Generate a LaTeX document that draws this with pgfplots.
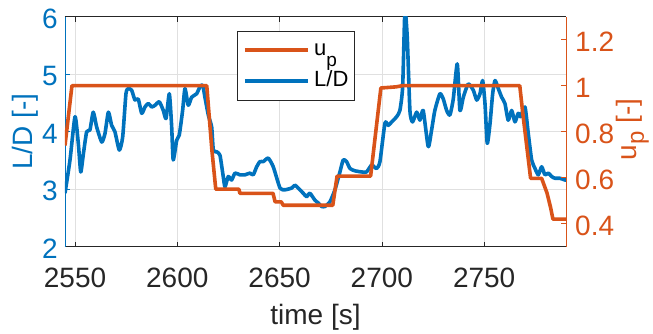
\documentclass[border=0pt]{standalone}
\usepackage{pgfplots}
\pgfplotsset{compat=1.18}
\usepackage{fontspec}
\setmainfont{Liberation Sans}
\definecolor{mblue}{RGB}{0,114,189}
\definecolor{morange}{RGB}{217,83,25}
\definecolor{mgray}{RGB}{38,38,38}
\newcommand{\bigfnt}{\fontsize{28}{34}\selectfont}
\begin{document}
\begin{tikzpicture}
\path[use as bounding box] (-65pt,-87.3pt) rectangle (588pt,246.7pt);
\begin{axis}[
  scale only axis, width=501pt, height=230pt, at={(0pt,0pt)}, anchor=south west,
  xmin=2545.1, xmax=2790, ymin=2, ymax=6,
  xtick={2550,2600,2650,2700,2750}, ytick={2,3,4,5,6},
  axis x line=box, axis y line*=left,
  x axis line style={mgray, line width=0.6pt},
  y axis line style={mblue, line width=0.6pt},
  tick align=inside, major tick length=5pt,
  xtick style={mgray, line width=0.6pt}, ytick style={mblue, line width=0.6pt},
  xticklabel pos=lower,
  grid=major, major grid style={black!12, line width=0.6pt},
  /pgf/number format/assume math mode=true,
  /pgf/number format/1000 sep={},
  tick label style={font=\bigfnt, inner sep=0pt},
  xticklabel style={text=mgray, anchor=north, yshift=-21pt},
  yticklabel style={text=mblue, anchor=east, xshift=-7pt, yshift=-2pt},
  xlabel={time [s]}, ylabel={L/D [-]},
  label style={font=\bigfnt},
  xlabel style={text=mgray, at={(axis description cs:0.5,-0.308)}, anchor=center},
  ylabel style={text=mblue, at={(axis description cs:-0.079,0.5)}, anchor=center},
  clip=true,
]
\addplot[mblue, line width=3.6pt, line join=round, smooth, tension=0.35] coordinates {
(2545.1,2.93) (2547.55,3.51) (2550.0,4.26) (2551.6,3.80) (2552.8,3.30) (2554.1,3.62)
(2555.7,4.00) (2557.3,4.03) (2558.9,4.34) (2560.6,4.08) (2563.05,3.82) (2564.65,3.97)
(2566.3,4.34) (2567.9,4.11) (2569.5,4.00) (2571.65,3.68) (2573.3,3.91) (2574.9,4.66)
(2576.05,4.75) (2577.7,4.72) (2579.3,4.55) (2580.9,4.57) (2582.6,4.32) (2584.2,4.43)
(2585.8,4.49) (2587.5,4.43) (2589.1,4.46) (2591.2,4.52) (2593.15,4.37) (2594.5,4.23)
(2596.1,4.66) (2597.25,4.08) (2598.0,3.51) (2599.7,3.85) (2600.95,3.94) (2602.6,4.37)
(2603.75,4.75) (2605.35,4.46) (2607.0,4.60) (2609.45,4.66) (2611.05,4.78) (2612.4,4.81)
(2613.5,4.60) (2615.15,4.29) (2616.8,4.08) (2617.6,3.68) (2619.25,3.65) (2620.85,3.59)
(2622.45,3.22) (2623.3,3.04) (2624.9,3.22) (2626.55,3.16) (2628.2,3.28) (2630.6,3.25)
(2633.05,3.25) (2635.5,3.28) (2637.1,3.25) (2638.8,3.39) (2640.4,3.48) (2642.0,3.48)
(2644.45,3.54) (2646.9,3.39) (2650.2,3.02) (2652.6,2.99) (2655.9,3.02) (2657.5,3.07)
(2659.1,3.02) (2661.55,2.93) (2663.2,2.87) (2664.8,2.93) (2667.25,2.81) (2668.9,2.76)
(2670.55,2.70) (2672.15,2.70) (2674.6,2.78) (2677.05,2.99) (2679.5,3.30) (2681.1,3.51)
(2682.75,3.48) (2684.4,3.36) (2686.8,3.32) (2690.1,3.30) (2692.5,3.30) (2695.0,3.42)
(2697.4,3.36) (2699.05,3.48) (2701.5,4.15) (2703.1,4.11) (2704.8,4.17) (2707.2,4.26)
(2708.8,4.37) (2710.15,4.78) (2711.25,6.10) (2712.4,5.64) (2713.7,4.37) (2715.0,4.17)
(2717.0,4.34) (2718.6,4.20) (2720.2,4.37) (2722.65,3.74) (2724.3,4.03) (2725.9,4.37)
(2728.35,4.66) (2730.0,4.57) (2731.65,4.37) (2733.25,4.29) (2734.9,4.57) (2736.85,5.18)
(2738.15,4.37) (2739.8,4.60) (2742.2,4.83) (2744.7,4.72) (2746.35,4.55) (2747.95,4.66)
(2749.25,4.89) (2750.4,4.49) (2751.5,3.80) (2752.85,4.14) (2754.15,4.66) (2755.3,4.89)
(2756.9,4.75) (2758.55,4.60) (2760.15,4.49) (2761.75,4.20) (2763.45,4.37) (2765.05,4.17)
(2766.65,4.32) (2767.85,4.26) (2769.95,4.43) (2771.55,3.97) (2773.2,3.51) (2774.85,3.36)
(2776.45,3.25) (2778.1,3.39) (2779.7,3.25) (2781.35,3.28) (2783.0,3.22) (2784.6,3.19)
(2787.05,3.19) (2789.5,3.16) (2790,3.16)
};
\end{axis}
\begin{axis}[
  scale only axis, width=501pt, height=230pt, at={(0pt,0pt)}, anchor=south west,
  xmin=2545.1, xmax=2790, ymin=0.3, ymax=1.3,
  axis x line=none, axis y line*=right,
  ytick={0.4,0.6,0.8,1,1.2},
  y axis line style={morange, line width=0.6pt},
  ytick style={morange, line width=0.6pt},
  tick align=inside, major tick length=5pt,
  /pgf/number format/assume math mode=true,
  yticklabel style={font=\bigfnt, inner sep=0pt, text=morange, anchor=west, xshift=9pt, yshift=-2pt},
  ylabel={u\raisebox{-0.25em}{\fontsize{24}{28}\selectfont p} [-]},
  label style={font=\bigfnt},
  ylabel style={text=morange, at={(axis description cs:1.1657,0.51)}, anchor=south, inner sep=0pt},
  legend style={at={(0.3427,0.939)}, anchor=north west, draw=mgray, line width=0.6pt,
    fill=white, font=\fontsize{22}{26}\selectfont, inner xsep=6pt, inner ysep=6.15pt,
    row sep=5pt, column sep=4.3pt,
    nodes={inner sep=0pt, text height=18pt, text depth=8pt}},
  legend cell align=left,
  legend image code/.code={\path (-5.3pt,0pt) -- (58pt,0pt);
    \draw[#1] (0pt,0pt) -- (58pt,0pt);},
]
\addplot[morange, line width=3.6pt, line join=round] coordinates {
(2545.1,0.74) (2548.5,1.0) (2614.4,1.0) (2616.9,0.72) (2618.8,0.55) (2630.1,0.55)
(2630.6,0.532) (2646.8,0.532) (2647.8,0.495) (2650.8,0.495) (2651.8,0.48) (2676.0,0.48)
(2678.1,0.607) (2694.5,0.607) (2699.5,0.99) (2707,0.995) (2710,1.0) (2767.4,1.0)
(2768.8,0.886) (2772.7,0.597) (2778.1,0.597) (2780.7,0.534) (2782.5,0.469) (2783.6,0.42)
(2790,0.42)
};
\addlegendentry{u\raisebox{-0.5em}{\fontsize{19}{22}\selectfont p}}
\addlegendimage{mblue, line width=3.6pt}
\addlegendentry{L/D}
\end{axis}
\end{tikzpicture}
\end{document}
